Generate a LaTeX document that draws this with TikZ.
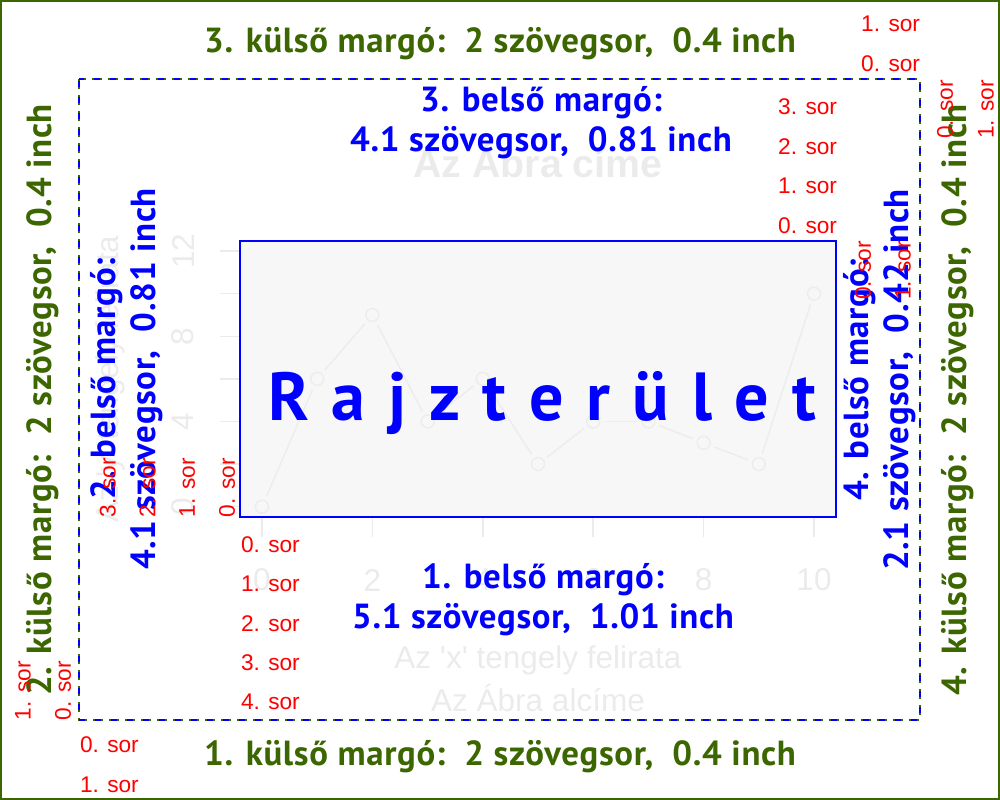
\documentclass[tikz,border=0pt]{standalone}
\usepackage{fontspec}
\setmainfont{Liberation Sans}
\newfontfamily\margofont[LetterSpace=2]{PT Sans}
\newfontfamily\rajzfont[LetterSpace=8]{PT Sans}
\definecolor{zold}{RGB}{60,102,0}
\newdimen\pxu \pxu=0.36135pt

\begin{document}
\begin{tikzpicture}[
    x=0.005in, y=-0.005in,
    every node/.style={inner sep=0pt, outer sep=0pt},
    sor/.style={text=red, font=\fontsize{8.2}{9.8}\selectfont},
    kulso/.style={text=zold, font=\margofont\bfseries\fontsize{12.6}{14.45}\selectfont},
    belso/.style={text=blue, align=center, font=\margofont\bfseries\fontsize{12.6}{14.45}\selectfont},
    halvany/.style={text=black!8, font=\fontsize{11.4}{13.7}\selectfont},
    pont/.style={circle, draw=black!7, line width=1.5\pxu, minimum size=13\pxu},
    vonal/.style={draw=black!7, line width=1.5\pxu, shorten <=5\pxu, shorten >=5\pxu}
]
\useasboundingbox (0,0) rectangle (1000,800);

% keret es kulso margo hatara
\draw[zold, line width=2\pxu] (1,1) rectangle (999,799);
\draw[zold, line width=2\pxu, dash pattern=on 10\pxu off 6\pxu] (79,79) rectangle (920,720);
\draw[blue, line width=2\pxu, dash pattern=on 6\pxu off 10\pxu, dash phase=14\pxu] (79,79) rectangle (920,720);

% halvany hatter abra
\fill[black!3] (240,241) rectangle (836,517);
\foreach \v [count=\i from 0] in {0,6,9,4,6,2,4,4,3,2,10}
    \node[pont] (p\i) at ({262+55.2*\i},{506.7-21.3*\v}) {};
\foreach \i [remember=\i as \j (initially 0)] in {1,...,10}
    \draw[vonal] (p\j) -- (p\i);
\foreach \t in {0,2,...,10} {
    \draw[black!8, line width=1.5\pxu] ({262+55.2*\t},517) -- ++(0,20);
    \node[halvany] (xt\t) at ({262+55.2*\t},580) {\t};
}
\foreach \t in {0,2,...,12}
    \draw[black!8, line width=1.5\pxu] (240,{506.7-21.3*\t}) -- ++(-20,0);
\foreach \t in {0,4,8,12}
    \node[halvany, rotate=90] (yt\t) at (183,{506.7-21.3*\t}) {\t};
\node[halvany, font=\bfseries\fontsize{14.2}{17}\selectfont] (cim) at (538,160) {Az Ábra címe};
\node[halvany] (xfelirat) at (538,660) {Az \textquotesingle x\textquotesingle{} tengely felirata};
\node[halvany] (alcim) at (538,698) {Az Ábra alcíme};
\node[halvany, rotate=90] (yfelirat) at (110,379) {Az \textquotesingle y\textquotesingle{} tengely felirata};

% rajzterulet
\draw[blue, line width=2\pxu] (240,241) rectangle (836,517);
\node[text=blue, font=\rajzfont\bfseries\fontsize{24.6}{29}\selectfont, anchor=base] (rajz) at (542,421) {R a j z t e r ü l e t};

% belso margok
\node[belso] (belso3) at (541,123) {3. belső margó:\\4.1 szövegsor,\ \ 0.81 inch};
\node[belso] (belso1) at (543,600) {1. belső margó:\\5.1 szövegsor,\ \ 1.01 inch};
\node[belso, rotate=90] (belso2) at (127,379) {2. belső margó:\\4.1 szövegsor,\ \ 0.81 inch};
\node[belso, rotate=90] (belso4) at (880,380) {4. belső margó:\\2.1 szövegsor,\ \ 0.42 inch};

% kulso margok
\node[kulso] (kulso3) at (500,44) {3. külső margó:\ \ 2 szövegsor,\ \ 0.4 inch};
\node[kulso] (kulso1) at (500,757) {1. külső margó:\ \ 2 szövegsor,\ \ 0.4 inch};
\node[kulso, rotate=90] (kulso2) at (43,400) {2. külső margó:\ \ 2 szövegsor,\ \ 0.4 inch};
\node[kulso, rotate=90] (kulso4) at (958,400) {4. külső margó:\ \ 2 szövegsor,\ \ 0.4 inch};

% sorok
\foreach \i in {0,...,4}
    \node[sor, anchor=west] (bs1\i) at (241,{545+39.2*\i}) {\i. sor};
\foreach \i in {0,...,3}
    \node[sor, anchor=east] (bs3\i) at (837,{226-39.7*\i}) {\i. sor};
\foreach \i in {0,...,3}
    \node[sor, rotate=90, anchor=west] (bs2\i) at ({227-39.7*\i},517) {\i. sor};
\foreach \i in {0,1}
    \node[sor, rotate=90, anchor=east] (bs4\i) at ({863+40*\i},241) {\i. sor};
\foreach \i in {0,1}
    \node[sor, anchor=west] (ks1\i) at (80,{745+40*\i}) {\i. sor};
\foreach \i in {0,1}
    \node[sor, anchor=east] (ks3\i) at (920,{64-40*\i}) {\i. sor};
\foreach \i in {0,1}
    \node[sor, rotate=90, anchor=west] (ks2\i) at ({63-40*\i},720) {\i. sor};
\foreach \i in {0,1}
    \node[sor, rotate=90, anchor=east] (ks4\i) at ({945+41*\i},80) {\i. sor};

\end{tikzpicture}
\end{document}
